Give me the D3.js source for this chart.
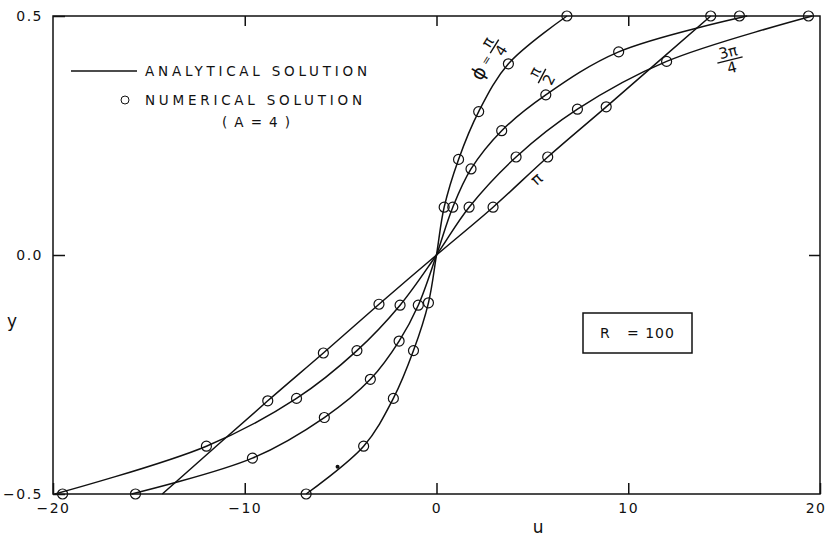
<!DOCTYPE html>
<html>
<head>
<meta charset="utf-8">
<script src="https://cdn.jsdelivr.net/npm/d3@7"></script>
<style>
  html, body { margin: 0; padding: 0; background: #fff; }
  svg { display: block; }
  text { font-family: "DejaVu Sans", "Liberation Sans", sans-serif; fill: #111; }
</style>
</head>
<body>
<svg id="viz" width="826" height="536"></svg>
<script>
// ---- data ----
// numerical solution points (circles), per phi
var numPi4U = [-6.8, -3.8, -2.25, -1.2, -0.42, 0.4, 1.15, 2.2, 3.75, 6.8];
var numPi4Y = [-0.5, -0.4, -0.3, -0.2, -0.1, 0.1, 0.2, 0.3, 0.4, 0.5];
var numPi2U = [-15.7, -9.6, -5.85, -3.45, -1.95, -0.95, 0.85, 1.8, 3.4, 5.7, 9.5, 15.8];
var numPi2Y = [-0.5, -0.425, -0.34, -0.26, -0.18, -0.105, 0.1, 0.18, 0.26, 0.335, 0.425, 0.5];
var num3Pi4U = [-19.5, -12, -7.3, -4.15, -1.9, 1.7, 4.15, 7.35, 12, 19.4];
var num3Pi4Y = [-0.5, -0.4, -0.3, -0.2, -0.105, 0.1, 0.205, 0.305, 0.405, 0.5];
var numPiU = [-8.8, -5.9, -3, 2.95, 5.8, 8.85, 14.3];
var numPiY = [-0.305, -0.205, -0.103, 0.1, 0.205, 0.31, 0.5];

// analytical solution curves
var anPi4U = [-6.8, -3.8, -2.25, -1.2, -0.42, 0, 0.4, 1.15, 2.2, 3.75, 6.8];
var anPi4Y = [-0.5, -0.4, -0.3, -0.2, -0.1, 0, 0.1, 0.2, 0.3, 0.4, 0.5];
var anPi2U = [-15.9, -9.6, -5.85, -3.45, -1.95, -0.95, 0, 0.85, 1.8, 3.4, 5.7, 9.5, 16.2];
var anPi2Y = [-0.5, -0.425, -0.34, -0.26, -0.18, -0.105, 0, 0.1, 0.18, 0.26, 0.335, 0.425, 0.5];
var an3Pi4U = [-19.9, -12, -7.3, -4.15, -1.9, 0, 1.7, 4.15, 7.35, 12, 19.6];
var an3Pi4Y = [-0.5, -0.4, -0.3, -0.2, -0.105, 0, 0.1, 0.205, 0.305, 0.405, 0.5];
var anPiU = [-14.3, -8.8, -5.9, -3, 0, 2.95, 5.8, 8.85, 14.3];
var anPiY = [-0.5, -0.305, -0.205, -0.103, 0, 0.1, 0.205, 0.31, 0.5];

// stray speck on the original print
var speckU = [-5.16];
var speckY = [-0.443];

var xTicks = [-20, -10, 0, 10, 20];
var yTicks = [-0.5, 0, 0.5];

// ---- layout ----
var svg = d3.select("#viz");
var x = d3.scaleLinear().domain([-20, 20]).range([53, 820]);
var y = d3.scaleLinear().domain([-0.5, 0.5]).range([494, 16]);

function zip(us, ys) {
    return us.map(function (u, i) { return { u: u, y: ys[i] }; });
}

// frame
svg.append("rect")
    .attr("x", x(-20)).attr("y", y(0.5))
    .attr("width", x(20) - x(-20)).attr("height", y(-0.5) - y(0.5))
    .attr("fill", "none").attr("stroke", "#111").attr("stroke-width", 1.5);

// axes (inward ticks)
var xAxis = svg.append("g").attr("transform", "translate(0," + y(-0.5) + ")")
    .call(d3.axisBottom(x).tickValues(xTicks).tickSizeInner(-11).tickSizeOuter(0).tickPadding(9)
        .tickFormat(function (d) { return d3.format("d")(d); }));
var yAxis = svg.append("g").attr("transform", "translate(" + x(-20) + ",0)")
    .call(d3.axisLeft(y).tickValues(yTicks).tickSizeInner(-12).tickSizeOuter(0).tickPadding(10)
        .tickFormat(d3.format(".1f")));
var topAxis = svg.append("g").attr("transform", "translate(0," + y(0.5) + ")")
    .call(d3.axisTop(x).tickValues([-10, 0, 10]).tickSizeInner(-10).tickSizeOuter(0).tickFormat(""));
var rightAxis = svg.append("g").attr("transform", "translate(" + x(20) + ",0)")
    .call(d3.axisRight(y).tickValues([0]).tickSizeInner(-11).tickSizeOuter(0).tickFormat(""));

[xAxis, yAxis, topAxis, rightAxis].forEach(function (g) {
    g.select(".domain").remove();
    g.selectAll("line").attr("stroke", "#111").attr("stroke-width", 1.5);
    g.selectAll("text")
        .style("font-family", "DejaVu Sans, sans-serif")
        .style("font-size", "14px")
        .style("letter-spacing", "1.5px")
        .attr("fill", "#111");
});
// the last label sits at the page edge: keep it inside
xAxis.selectAll(".tick").filter(function (d) { return d === 20; })
    .select("text").attr("text-anchor", "end").attr("dx", 6);

// axis titles
svg.append("text").attr("x", x(5.3)).attr("y", 533)
    .attr("text-anchor", "middle").style("font-size", "17px").text("u");
svg.append("text").attr("x", 12).attr("y", 327)
    .attr("text-anchor", "middle").style("font-size", "17px").text("y");

// analytical curves
var line = d3.line()
    .x(function (d) { return x(d.u); })
    .y(function (d) { return y(d.y); })
    .curve(d3.curveCatmullRom.alpha(0.5));

var curves = [zip(anPi4U, anPi4Y), zip(anPi2U, anPi2Y), zip(an3Pi4U, an3Pi4Y), zip(anPiU, anPiY)];
svg.append("g").selectAll("path")
    .data(curves)
    .enter()
    .append("path")
    .attr("d", line)
    .attr("fill", "none")
    .attr("stroke", "#111")
    .attr("stroke-width", 1.5);

// numerical points
var points = [].concat(zip(numPi4U, numPi4Y), zip(numPi2U, numPi2Y), zip(num3Pi4U, num3Pi4Y), zip(numPiU, numPiY));
svg.append("g").selectAll("circle")
    .data(points)
    .enter()
    .append("circle")
    .attr("cx", function (d) { return x(d.u); })
    .attr("cy", function (d) { return y(d.y); })
    .attr("r", 5)
    .attr("fill", "none")
    .attr("stroke", "#111")
    .attr("stroke-width", 1.2);

svg.append("g").selectAll("circle")
    .data(zip(speckU, speckY))
    .enter()
    .append("circle")
    .attr("cx", function (d) { return x(d.u); })
    .attr("cy", function (d) { return y(d.y); })
    .attr("r", 2)
    .attr("fill", "#111");

// legend
svg.append("line").attr("x1", 71).attr("x2", 137).attr("y1", 71).attr("y2", 71)
    .attr("stroke", "#111").attr("stroke-width", 1.5);
svg.append("text").attr("x", 145).attr("y", 76).style("font-size", "13.5px")
    .attr("textLength", 222).attr("lengthAdjust", "spacing").text("ANALYTICAL  SOLUTION");
svg.append("circle").attr("cx", 125).attr("cy", 100).attr("r", 4)
    .attr("fill", "none").attr("stroke", "#111").attr("stroke-width", 1);
svg.append("text").attr("x", 145).attr("y", 105).style("font-size", "13.5px")
    .attr("textLength", 217).attr("lengthAdjust", "spacing").text("NUMERICAL  SOLUTION");
svg.append("text").attr("x", 222).attr("y", 127).style("font-size", "13.5px")
    .attr("textLength", 68).attr("lengthAdjust", "spacing").text("( A = 4 )");

// R box
svg.append("rect").attr("x", 583).attr("y", 313).attr("width", 109).attr("height", 40)
    .attr("fill", "none").attr("stroke", "#111").attr("stroke-width", 1.5);
svg.append("text").attr("x", 600).attr("y", 338).style("font-size", "14px").text("R");
svg.append("text").attr("x", 627).attr("y", 338).style("font-size", "14px")
    .style("letter-spacing", "1px").text("= 100");

// curve labels
function fraction(g, num, den, w) {
    g.append("text").attr("x", 0).attr("y", -3).attr("text-anchor", "middle")
        .style("font-size", "15px").text(num);
    g.append("line").attr("x1", -w / 2).attr("x2", w / 2).attr("y1", 0).attr("y2", 0)
        .attr("stroke", "#111").attr("stroke-width", 1.4);
    g.append("text").attr("x", 0).attr("y", 13).attr("text-anchor", "middle")
        .style("font-size", "15px").text(den);
}

var l1 = svg.append("g").attr("transform", "translate(486,60) rotate(-58)");
l1.append("text").attr("x", -15).attr("y", 7).attr("text-anchor", "middle")
    .style("font-size", "19px").text("\u03d5");
l1.append("text").attr("x", 0).attr("y", 4).attr("text-anchor", "middle")
    .style("font-size", "11px").text("=");
var f1 = l1.append("g").attr("transform", "translate(16,0)");
fraction(f1, "\u03c0", "4", 16);

var l2 = svg.append("g").attr("transform", "translate(542,76) rotate(-62)");
fraction(l2, "\u03c0", "2", 16);

var l3 = svg.append("g").attr("transform", "translate(730,60) rotate(-14)");
fraction(l3, "3\u03c0", "4", 26);

svg.append("text").attr("transform", "translate(540,183) rotate(-42)")
    .attr("text-anchor", "middle").style("font-size", "16px").text("\u03c0");
</script>
</body>
</html>
